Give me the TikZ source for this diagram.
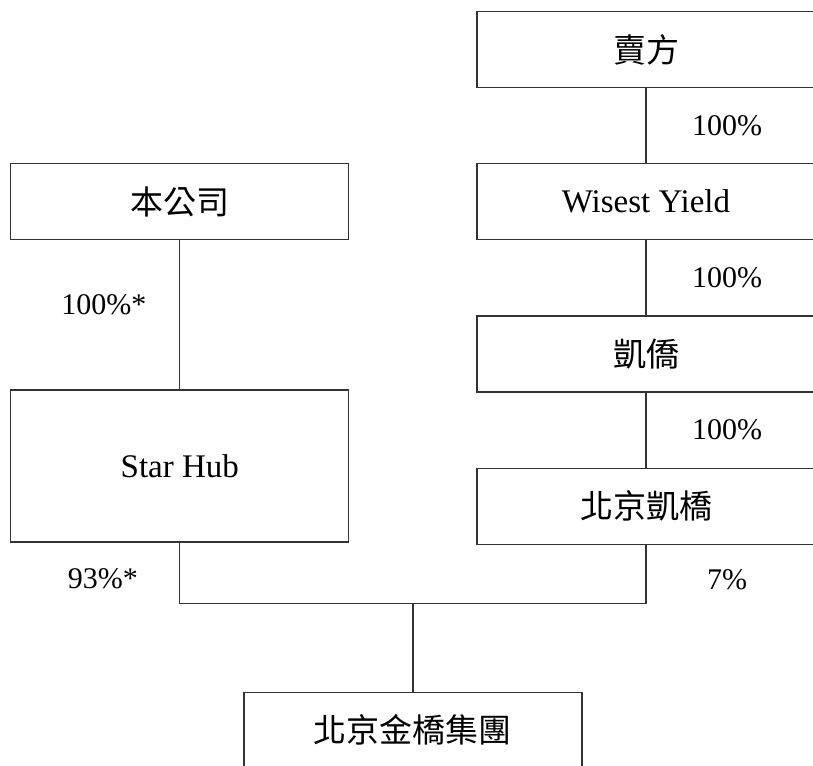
\documentclass[tikz,border=0pt]{standalone}
\usepackage{fontspec}
\setmainfont{Liberation Serif}
\newfontfamily\cjkfont{Noto Sans CJK TC}
\usetikzlibrary{positioning}
\usetikzlibrary{calc}

\begin{document}
\begin{tikzpicture}[x=1pt, y=-1pt,
        entity/.style={rectangle, draw=black!80, line width=1.2pt, minimum width=338pt, minimum height=76pt, inner sep=0pt, font=\fontsize{33}{40}\selectfont},
        link/.style={draw=black!80, line width=1.2pt},
        share/.style={font=\fontsize{30}{36}\selectfont, anchor=center}]
        \useasboundingbox (0,0) rectangle (813,765);
        \node[entity](seller) at (646,49.5) {\cjkfont 賣方};
        \node[entity, below = 75pt of seller](wisest){Wisest Yield};
        \node[entity, below = 75pt of wisest](kaiqiao){\cjkfont 凱僑};
        \node[entity, below = 75pt of kaiqiao](bjkaiqiao){\cjkfont 北京凱橋};
        \node[entity, left = 127pt of wisest](company){\cjkfont 本公司};
        \node[entity, minimum height=152pt, below = 149pt of company](starhub){Star Hub};
        \coordinate (jl) at ($(starhub.south)+(0pt,-61pt)$);
        \coordinate (jr) at (jl -| bjkaiqiao.south);
        \coordinate (jm) at ($(jl)!0.5!(jr)$);
        \node[entity, below = 88pt of jm](group){\cjkfont 北京金橋集團};
        \draw[link] (seller) -- node[share, xshift=81pt] {100\%} (wisest);
        \draw[link] (wisest) -- node[share, xshift=81pt] {100\%} (kaiqiao);
        \draw[link] (kaiqiao) -- node[share, xshift=81pt] {100\%} (bjkaiqiao);
        \draw[link] (company) -- node[share, pos=0.43, xshift=-76pt] {100\%*} (starhub);
        \draw[link] (starhub.south) -- node[share, pos=0.6, xshift=-77pt] {93\%*} (jl) -- (jr) -- node[share, pos=0.4, xshift=81pt] {7\%} (bjkaiqiao.south);
        \draw[link] (jm) -- (group);
    \end{tikzpicture}
\end{document}
